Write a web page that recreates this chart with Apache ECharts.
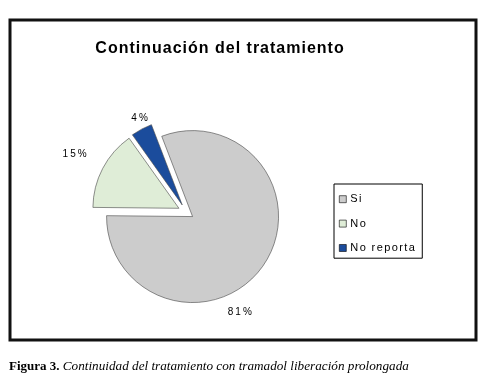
<!DOCTYPE html>
<html><head><meta charset="utf-8">
<script src="https://cdn.jsdelivr.net/npm/echarts@6/dist/echarts.min.js"></script>
<style>html,body{margin:0;padding:0;background:#fff}#c{width:494px;height:386px}</style>
</head><body><div id="c"></div>
<script>
const categories = ['Si', 'No', 'No reporta'];
const values = [81, 15, 4];
const colors = ['#cccccc', '#dfedd7', '#1b4c9c'];
const chartTitle = 'Continuación del tratamiento';
const captionBold = 'Figura 3.';
const captionItalic = 'Continuidad del tratamiento con tramadol liberación prolongada';

// wide letter spacing of the original (sans-serif chart texts only)
(function () {
  const P = CanvasRenderingContext2D.prototype;
  const fill = P.fillText, stroke = P.strokeText, measure = P.measureText;
  function sp(ctx) {
    const f = ctx.font || '';
    let s = '0px';
    if (!/Serif/.test(f)) {
      const m = f.match(/(\d+(?:\.\d+)?)px/);
      const size = m ? parseFloat(m[1]) : 12;
      if (size >= 15) s = '1px';
      else if (size >= 11) s = '1.4px';
      else s = '2px';
    }
    if ('letterSpacing' in ctx) ctx.letterSpacing = s;
  }
  P.fillText = function () { sp(this); return fill.apply(this, arguments); };
  P.strokeText = function () { sp(this); return stroke.apply(this, arguments); };
  P.measureText = function () { sp(this); return measure.apply(this, arguments); };
})();

const labelNudge = [[-47, 42], [-2, -10], [17, -4]];

const chart = echarts.init(document.getElementById('c'), null, {renderer: 'canvas'});
chart.setOption({
  animation: false,
  backgroundColor: '#fff',
  title: [{
    text: chartTitle,
    left: 220, top: 40, textAlign: 'center', padding: 0,
    textStyle: {fontFamily: 'Liberation Sans, Arial', fontWeight: 'bold', fontSize: 16, color: '#000'}
  }, {
    text: '{b|' + captionBold + ' }{i|' + captionItalic + '}',
    left: 9, top: 360, padding: 0,
    textStyle: {
      fontWeight: 'normal',
      rich: {
        b: {fontFamily: 'Liberation Serif, Times New Roman', fontWeight: 'bold', fontSize: 13, color: '#000'},
        i: {fontFamily: 'Liberation Serif, Times New Roman', fontStyle: 'italic', fontWeight: 'normal', fontSize: 13.2, color: '#000'}
      }
    }
  }],
  legend: {
    orient: 'vertical',
    left: 334, top: 184,
    icon: 'rect',
    itemWidth: 7, itemHeight: 7, itemGap: 12,
    padding: [9, 6, 4, 5],
    borderColor: '#000', borderWidth: 1,
    data: categories,
    textStyle: {fontFamily: 'Liberation Sans, Arial', fontSize: 11, color: '#000', padding: [0, 0, 0, -1]},
    itemStyle: {borderColor: '#000', borderWidth: 0.6},
    selectedMode: false
  },
  graphic: [{
    type: 'rect', shape: {x: 10, y: 20, width: 466, height: 320},
    style: {fill: 'none', stroke: '#111', lineWidth: 3}, silent: true
  }],
  series: [{
    type: 'pie',
    center: [186, 212],
    radius: 86,
    startAngle: 111,
    clockwise: true,
    selectedMode: 'multiple',
    selectedOffset: 8,
    emphasis: {disabled: true},
    itemStyle: {borderColor: '#444', borderWidth: 0.6},
    label: {
      show: true, position: 'outside',
      formatter: '{d}%',
      fontFamily: 'Liberation Sans, Arial', fontSize: 10, color: '#000'
    },
    labelLine: {show: false, length: 8, length2: 0},
    labelLayout: function (p) {
      const n = labelNudge[p.dataIndex];
      return {dx: n[0], dy: n[1]};
    },
    data: categories.map((c, i) => ({
      name: c, value: values[i], selected: true,
      itemStyle: {color: colors[i]}
    }))
  }]
});
</script></body></html>
